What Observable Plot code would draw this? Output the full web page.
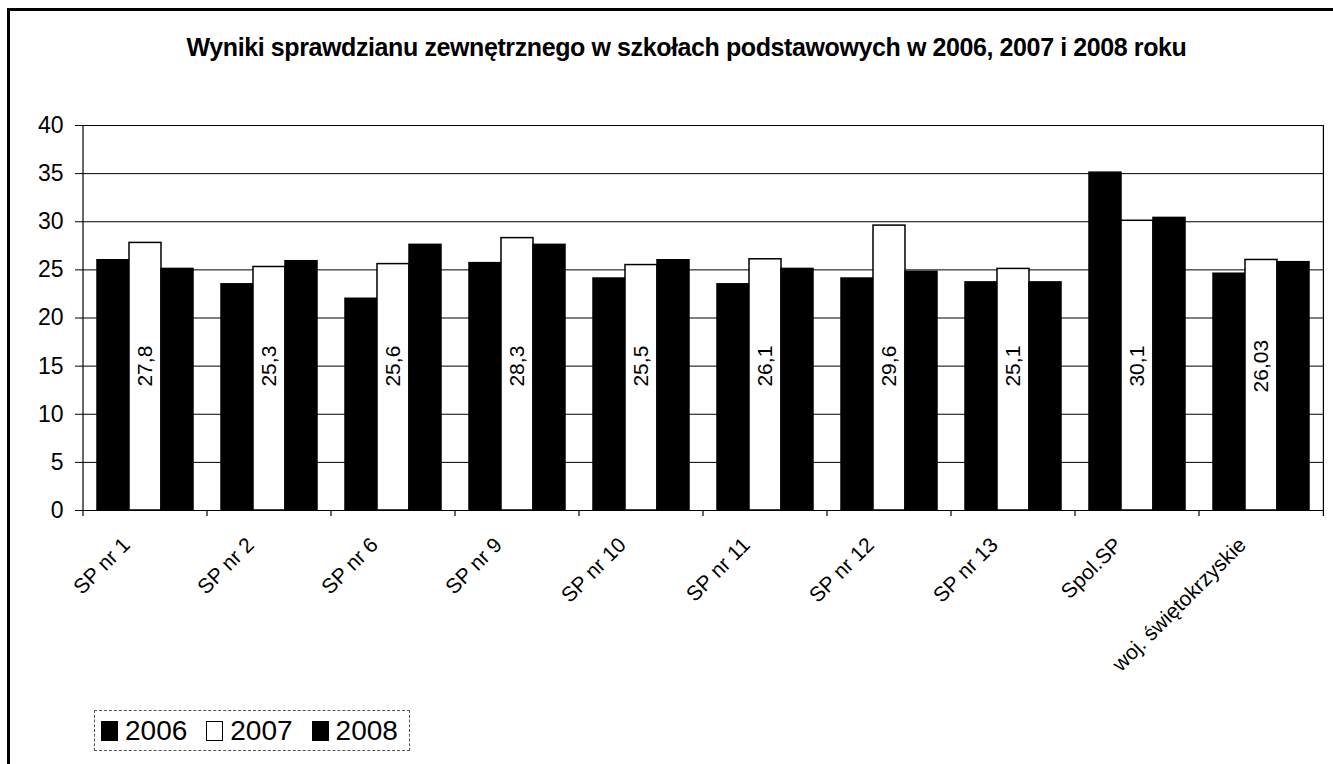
<!DOCTYPE html>
<html>
<head>
<meta charset="utf-8">
<script src="https://cdn.jsdelivr.net/npm/d3@7"></script>
<script src="https://cdn.jsdelivr.net/npm/@observablehq/plot@0.6"></script>
<style>
  body { margin: 0; background: #fff; font-family: "Liberation Sans", Arial, sans-serif; }
  #wrap { position: relative; width: 1333px; height: 764px; overflow: hidden; background: #fff; }
  #border { position: absolute; left: 7px; top: 8px; width: 1400px; height: 900px; border: 3px solid #000; box-sizing: border-box; pointer-events: none; }
  #title { height: 90px; line-height: 94px; text-align: center; font-weight: bold; font-size: 25px; letter-spacing: -0.4px; color: #000; padding-left: 40px; box-sizing: border-box; }
  #chart svg { display: block; }
  #legend { position: absolute; left: 94px; top: 710px; width: 316px; height: 41px; border: 1px dashed #555; box-sizing: border-box; display: flex; align-items: center; padding-left: 6px; font-size: 28px; color: #000; }
  .sw { display: inline-block; width: 17px; height: 20px; border: 1.5px solid #000; box-sizing: border-box; margin-right: 7px; }
  .item { display: inline-flex; align-items: center; margin-right: 19px; }
</style>
</head>
<body>
<div id="wrap">
  <div id="border"></div>
  <div id="title">Wyniki sprawdzianu zewnętrznego w szkołach podstawowych w 2006, 2007 i 2008 roku</div>
  <div id="chart"></div>
  <div id="legend"></div>
</div>
<script>
const categories = ["SP nr 1", "SP nr 2", "SP nr 6", "SP nr 9", "SP nr 10", "SP nr 11", "SP nr 12", "SP nr 13", "Spol.SP", "woj. świętokrzyskie"];
const years = ["2006", "2007", "2008"];
const values2006 = [26.0, 23.5, 22.0, 25.7, 24.1, 23.5, 24.1, 23.7, 35.1, 24.6];
const values2007 = [27.8, 25.3, 25.6, 28.3, 25.5, 26.1, 29.6, 25.1, 30.1, 26.03];
const values2008 = [25.1, 25.9, 27.6, 27.6, 26.0, 25.1, 24.8, 23.7, 30.4, 25.8];
const yTicks = [0, 5, 10, 15, 20, 25, 30, 35, 40];
const yearColors = ["#000", "#fff", "#000"];

const series = [values2006, values2007, values2008];
const rows = categories.flatMap((cat, i) =>
  years.map((year, k) => ({cat, year, value: series[k][i]}))
);
const labelRows = rows.filter(d => d.year === "2007")
  .map(d => ({...d, label: String(d.value).replace(".", ",")}));

const plot = Plot.plot({
  width: 1333,
  height: 610,
  marginLeft: 81,
  marginRight: 8,
  marginTop: 35,
  marginBottom: 190,
  style: {fontFamily: "Liberation Sans, Arial, sans-serif", background: "transparent", color: "#000"},
  fx: {domain: categories, padding: 0, label: null},
  x: {domain: years, paddingInner: 0, paddingOuter: 0.40, axis: null},
  y: {domain: [0, 40], label: null},
  color: {domain: years, range: yearColors},
  marks: [
    Plot.gridY(yTicks, {stroke: "#000", strokeOpacity: 1, strokeWidth: 1}),
    Plot.barY(rows, {fx: "cat", x: "year", y: "value", fill: "year", stroke: "#000", strokeWidth: 1.5}),
    Plot.text(labelRows, {fx: "cat", x: "year", y: () => 15, text: "label", rotate: -90, fontSize: 21, fill: "#000"}),
    Plot.axisY({ticks: yTicks, tickSize: 8, tickPadding: 12, fontSize: 23, label: null}),
    Plot.axisFx({anchor: "bottom", tickSize: 0, tickRotate: -45, textAnchor: "end", tickPadding: 31, dx: -19, fontSize: 21, label: null})
  ]
});
document.getElementById("chart").appendChild(plot);

// plot-area borders and category boundary ticks, from the library's scales
const fx = plot.scale("fx");
const y = plot.scale("y");
const y0 = y.apply(0), y40 = y.apply(40);
const starts = categories.map(c => fx.apply(c));
const step = (fx.range[1] - fx.range[0]) / categories.length;
const bounds = [...starts, starts[starts.length - 1] + step];
const svg = d3.select(plot);
const g = svg.append("g").attr("stroke", "#000").attr("stroke-width", 1.2);
g.selectAll("line.tick").data(bounds).join("line")
  .attr("class", "tick")
  .attr("x1", d => d).attr("x2", d => d)
  .attr("y1", y0).attr("y2", y0 + 6);
g.append("line").attr("x1", bounds[0]).attr("x2", bounds[0]).attr("y1", y40).attr("y2", y0);
g.append("line").attr("x1", bounds[bounds.length - 1]).attr("x2", bounds[bounds.length - 1]).attr("y1", y40).attr("y2", y0);

// legend
const legend = d3.select("#legend");
years.forEach((yr, k) => {
  const it = legend.append("span").attr("class", "item");
  it.append("span").attr("class", "sw").style("background", yearColors[k]);
  it.append("span").text(yr);
});
</script>
</body>
</html>
